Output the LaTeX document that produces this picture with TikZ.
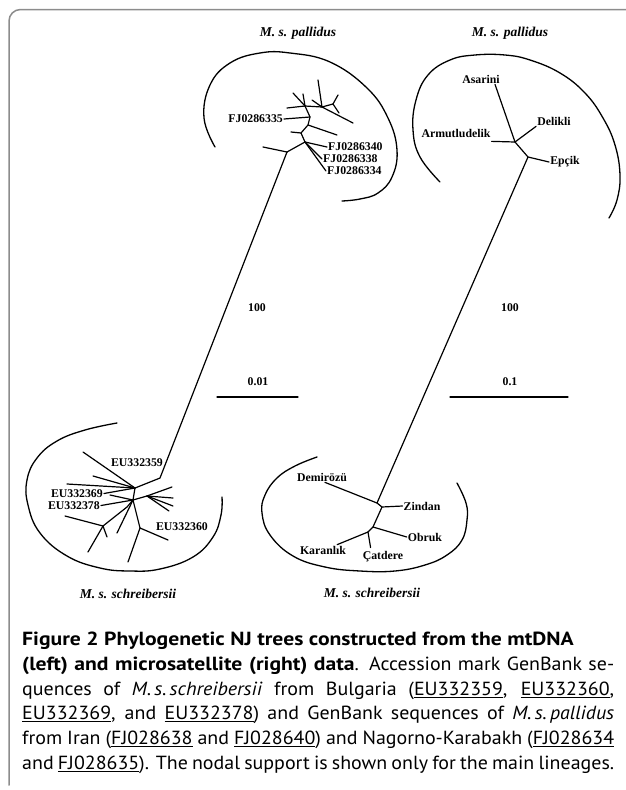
\documentclass[tikz,border=0pt]{standalone}
\usepackage{fontspec}
\setmainfont{Liberation Serif}
\newfontfamily\capfont[FakeStretch=1.05]{PT Sans}
\newfontfamily\capbold[FakeStretch=1.14]{PT Sans}
\newcommand{\acc}[1]{\underline{#1}}
\tikzset{
  branch/.style={line width=1.2pt},
  clade/.style={line width=1.3pt},
  tip/.style={font=\bfseries\fontsize{11.8}{13}\selectfont, inner sep=1pt},
  taxon/.style={font=\bfseries\itshape\fontsize{13.5}{15}\selectfont, inner sep=1pt},
  capline/.style={anchor=base west, inner sep=0pt, font=\capfont\fontsize{19}{23}\selectfont},
}
\begin{document}
\begin{tikzpicture}[x=1pt,y=-1pt,line join=round,line cap=round]
\useasboundingbox (0,0) rectangle (626,790);
\draw[black!45,line width=1.5pt,rounded corners=11.5pt] (9,785) -- (9,9.5) -- (626,9.5);
% mtDNA tree
\node[taxon] (palA) at (298,33) {M. s. pallidus};
\node[taxon] (schA) at (128,594) {M. s. schreibersii};
\draw[clade] plot[smooth,tension=0.7] coordinates {(215,147) (204,118) (210,85) (230,63) (260,53) (290,53) (330,62) (367,88) (388,118) (397,150) (392,177) (378,193) (360,199) (342,201)};
\draw[clade] plot[smooth,tension=0.7] coordinates {(117,423) (85,430) (57,441) (37,458) (27,480) (28,505) (40,533) (67,556) (100,568) (130,571) (160,569) (193,557) (213,537) (221,515) (222,497)};
\coordinate (m1) at (287,152);
\coordinate (m2) at (305,142);
\coordinate (m3) at (301,133);
\coordinate (m4) at (308,125);
\coordinate (m5) at (310,117);
\coordinate (m6) at (305,106);
\coordinate (m7) at (322,107);
\coordinate (m8) at (333,104);
\node[tip,anchor=east] (fj335) at (284,119) {FJ0286335};
\node[tip,anchor=west] (fj340) at (327,147) {FJ0286340};
\node[tip,anchor=west] (fj338) at (322,159) {FJ0286338};
\node[tip,anchor=west] (fj334) at (326,171) {FJ0286334};
\draw[branch] (m1) -- (m2) -- (m3) -- (m4) -- (m5) -- (m6) -- (m7) -- (m8);
\draw[branch] (m1) -- ++(-24,-5);
\draw[branch] (m2) -- (fj340.west);
\draw[branch] (m2) -- (fj338.west);
\draw[branch] (m2) -- (fj334.west);
\draw[branch] (m3) -- ++(-10,-1);
\draw[branch] (m4) -- ++(29,10);
\draw[branch] (m5) -- (fj335.east);
\draw[branch] (m6) -- ++(-18,2);
\draw[branch] (m6) -- ++(-12,-13);
\draw[branch] (m6) -- ++(-2,-12);
\draw[branch] (m7) -- ++(-4,-27);
\draw[branch] (m7) -- ++(-10,-7);
\draw[branch] (m7) -- ++(31,16);
\draw[branch] (m8) -- ++(5,-9);
\draw[branch] (m8) -- ++(6,9);
\coordinate (b1) at (160,478);
\coordinate (b2) at (135,488);
\coordinate (b3) at (133,500);
\coordinate (bR) at (147,496);
\coordinate (b4) at (127,507);
\coordinate (b5) at (103,526);
\coordinate (b6) at (140,528);
\node[tip] (eu359) at (137,463) {EU332359};
\node[tip,anchor=east] (eu369) at (104,493.5) {EU332369};
\node[tip,anchor=east] (eu378) at (101,505.5) {EU332378};
\node[tip] (eu360) at (182,527) {EU332360};
\draw[branch] (m1) -- (b1) -- (b2) -- (b3) -- (b4) -- (b5);
\draw[branch] (b2) -- ++(-52,-36);
\draw[branch] (b2) -- ++(-68,-4);
\draw[branch] (b2) -- ++(-42,-12);
\draw[branch] (eu369.east) -- (b2);
\draw[branch] (b3) -- ++(-23,-5);
\draw[branch] (eu378.east) -- (b3);
\draw[branch] (b3) -- (bR);
\draw[branch] (bR) -- ++(25,-9);
\draw[branch] (bR) -- ++(26,2);
\draw[branch] (bR) -- ++(26,10);
\draw[branch] (bR) -- ++(22,15);
\draw[branch] (b5) -- ++(-38,-10);
\draw[branch] (b5) -- ++(-15,26);
\draw[branch] (b5) -- ++(4,11);
\draw[branch] (b3) -- ++(-16,33);
\draw[branch] (b3) -- (b6);
\draw[branch] (b6) -- ++(-12,34);
\draw[branch] (b6) -- ++(28,12);
\node[tip] (bsA) at (257,308) {100};
\node[tip] (slA) at (258,382) {0.01};
\draw[branch] (217,397) -- (298,397);
% microsatellite tree
\node[taxon] (palB) at (510,33) {M. s. pallidus};
\node[taxon] (schB) at (372,593) {M. s. schreibersii};
\draw[clade] plot[smooth,tension=0.7] coordinates {(440,182) (420,157) (413,130) (416,100) (428,75) (450,60) (475,55) (505,55) (530,60) (560,73) (585,93) (603,118) (615,145) (620,175) (617,200) (609,218)};
\draw[clade] plot[smooth,tension=0.7] coordinates {(317,457) (295,466) (277,478) (265,495) (262,513) (270,535) (293,556) (325,567) (360,571) (395,571) (425,565) (447,555) (462,540) (467,520) (466,503) (457,483)};
\coordinate (a1) at (515,142);
\coordinate (a2) at (528,157);
\coordinate (c1) at (377,503);
\coordinate (c2) at (382,507);
\coordinate (c3) at (373,527);
\coordinate (c4) at (368,532);
\node[tip] (asarini) at (481,79) {Asarini};
\node[tip] (delikli) at (554,121) {Delikli};
\node[tip] (armut) at (456,133) {Armutludelik};
\node[tip] (epcik) at (565,162) {Epçik};
\node[tip] (demir) at (322,477) {Demirözü};
\node[tip] (zindan) at (422,506) {Zindan};
\node[tip] (obruk) at (425,537) {Obruk};
\node[tip] (karan) at (323,550) {Karanlık};
\node[tip] (catd) at (383,557) {Çatdere};
\draw[branch] (a1) -- (a2) -- (c1) -- (c2) -- (c3) -- (c4);
\draw[branch] (a1) -- ([xshift=14pt]asarini.south);
\draw[branch] (a1) -- (delikli.south west);
\draw[branch] (a1) -- ([yshift=-3pt]armut.south east);
\draw[branch] (a2) -- (epcik.west);
\draw[branch] (c1) -- ([xshift=3pt]demir.south);
\draw[branch] (c2) -- (zindan.west);
\draw[branch] (c3) -- (obruk.west);
\draw[branch] (c4) -- ([xshift=-10pt]karan.north east);
\draw[branch] (c4) -- ([xshift=9pt,yshift=3pt]catd.north west);
\node[tip] (bsB) at (510,308) {100};
\node[tip] (slB) at (510,382) {0.1};
\draw[branch] (450,397) -- (568,397);
% caption
\node[capline] (cap1) at (22,645.5) {\capbold\bfseries Figure 2 Phylogenetic NJ trees constructed from the mtDNA};
\node[capline] (cap2) at (22,670.3) {\makebox[592pt][s]{{\capbold\bfseries (left) and microsatellite (right) data}. Accession mark GenBank se-}};
\node[capline] (cap3) at (22,695.1) {\makebox[592pt][s]{quences of \textit{M.\,s.\,schreibersii} from Bulgaria (\acc{EU332359}, \acc{EU332360},}};
\node[capline] (cap4) at (22,719.9) {\makebox[592pt][s]{\acc{EU332369}, and \acc{EU332378}) and GenBank sequences of \textit{M.\,s.\,pallidus}}};
\node[capline] (cap5) at (22,744.7) {\makebox[592pt][s]{from Iran (\acc{FJ028638} and \acc{FJ028640}) and Nagorno-Karabakh (\acc{FJ028634}}};
\node[capline] (cap6) at (22,769.5) {\makebox[592pt][s]{and \acc{FJ028635}). The nodal support is shown only for the main lineages.}};
\end{tikzpicture}
\end{document}
